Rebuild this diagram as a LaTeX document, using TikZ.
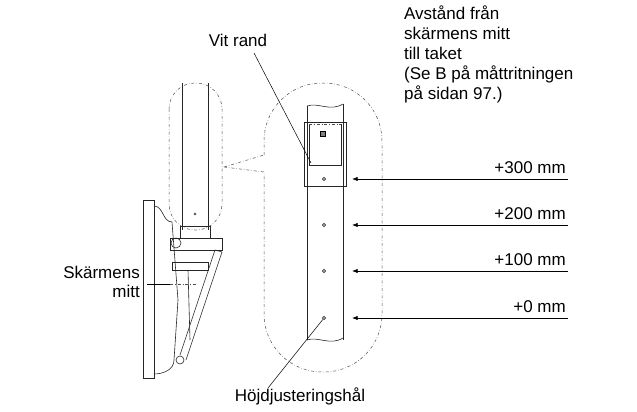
\documentclass[tikz,border=0pt]{standalone}
\usepackage{fontspec}
\setmainfont{Liberation Sans}
\usetikzlibrary{arrows.meta}
\tikzset{>=Latex}
\tikzset{part/.style={draw=black!85, line width=0.6pt},
	phantom/.style={draw=black!70, line width=0.5pt, dash dot},
	lbl/.style={font=\fontsize{17}{19}\selectfont, inner sep=0pt},
	hole/.style={draw=black!80, fill=black!40, circle, inner sep=1.3pt}}
\begin{document}
\begin{tikzpicture}[x=1pt,y=-1pt]
	\useasboundingbox (0,0) rectangle (637,412);
	% monitor
	\draw [part] (143,200) rectangle (154,378);
	\draw [part] (154,206) to [out=0,in=180] (172,222) -- (178,300) -- (174,360) to [out=-90,in=0] (154,374);
	\draw [part] (170,238) rectangle (222,250);
	\draw [part] (172,262) rectangle (208,270);
	\draw [part] (176,243) circle (5pt);
	\draw [part] (180,360) circle (4pt);
	\draw [part] (180,355) -- (215,250) -- (222,252) -- (186,360);
	\draw [part] (188,270) -- (190,340);
	\draw [part] (180,226) rectangle (210,238);
	% small phantom pill
	\draw [phantom, rounded corners=26pt] (169,83) rectangle (222,230);
	\draw [part] (182,83) -- (182,230) (208,83) -- (208,230);
	\node [hole, inner sep=0.8pt] (hs) at (195,214) {};
	% big phantom pill with callout
	\coordinate (c0) at (224,167);
	\coordinate (c1) at (264,155);
	\coordinate (c2) at (264,172);
	\draw [phantom] (c0) -- (c1) (c0) -- (c2);
	\draw [phantom, rounded corners=58pt] (c1) -- (264,83) -- (382,83) -- (382,372) -- (264,372) -- (c2);
	% bracket column
	\draw [part] (307,106) .. controls (318,102) and (330,112) .. (343,104);
	\draw [part] (307,106) -- (307,340) (343,104) -- (343,340);
	\draw [part] (307,340) .. controls (318,336) and (330,346) .. (343,338);
	\draw [part, line width=0.8pt] (304,122) rectangle (346,186);
	\draw [part] (309,124) -- (309,165) -- (341,165) -- (341,124);
	\draw [phantom] (309,124) -- (341,124);
	\node [draw, fill=black!50, minimum size=5pt, inner sep=0pt] (sq) at (323,134) {};
	\foreach \y/\n in {179/h3,225/h2,271/h1,318/h0}
		\node [hole] (\n) at (324,\y) {};
	% arrows and levels
	\foreach \y/\n/\t in {179/h3/+300,225/h2/+200,271/h1/+100,318/h0/+0} {
		\coordinate (e\n) at (568,\y);
		\draw [->, line width=0.6pt] (e\n) -- (352,\y);
		\node [lbl, anchor=base east] (t\n) at (566,\y-6) {\t{} mm};
	}
	% labels
	\node [lbl, align=left, anchor=north west, font=\fontsize{17}{20}\selectfont] (dist) at (404,6)
		{Avstånd från\\skärmens mitt\\till taket\\(Se B på måttritningen\\på sidan 97.)};
	\node [lbl] (vit) at (238,40) {Vit rand};
	\draw [line width=0.5pt] (254,53) -- (311,163);
	\node [lbl] (hojd) at (300,396) {Höjdjusteringshål};
	\draw [line width=0.5pt] (268,388) -- (h0);
	\node [lbl, align=right, anchor=east] (mitt) at (140,282) {Skärmens\\mitt};
	\draw [line width=0.5pt] (147,284) -- (170,284);
	\draw [phantom] (170,284) -- (196,284);
\end{tikzpicture}
\end{document}
